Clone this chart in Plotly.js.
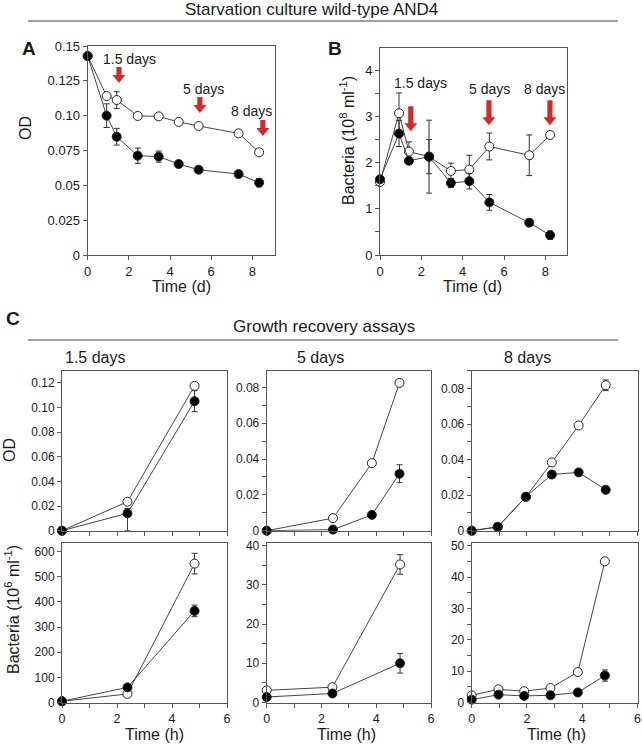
<!DOCTYPE html>
<html>
<head>
<meta charset="utf-8">
<script src="https://cdn.plot.ly/plotly-3.0.1.min.js"></script>
<style>html,body{margin:0;padding:0;background:#fff;}#plot{width:642px;height:746px;}</style>
</head>
<body>
<div id="plot"></div>
<script>
// ---------- Panel A : OD during starvation ----------
const A_time = [0, 0.92, 1.41, 2.43, 3.45, 4.42, 5.39, 7.33, 8.33];
const A_open = [0.1428, 0.1141, 0.1112, 0.0998, 0.0995, 0.0955, 0.0926, 0.0873, 0.0737];
const A_open_err = [0.001, 0, 0.006, 0.001, 0.002, 0.001, 0.001, 0.001, 0.001];
const A_filled = [0.1428, 0.1000, 0.0849, 0.0713, 0.0706, 0.0653, 0.0612, 0.0581, 0.0519];
const A_filled_err = [0.001, 0.0085, 0.006, 0.0055, 0.004, 0.002, 0.0015, 0.0015, 0.003];
const A_yticks = [0, 0.025, 0.05, 0.075, 0.10, 0.125, 0.15];
const A_yticklabels = ['0', '0.025', '0.05', '0.075', '0.10', '0.125', '0.15'];

// ---------- Panel B : bacteria during starvation ----------
const B_time = [0, 0.92, 1.40, 2.37, 3.43, 4.32, 5.29, 7.22, 8.23];
const B_open = [1.58, 3.07, 2.24, 2.13, 1.82, 1.85, 2.35, 2.16, 2.60];
const B_open_err = [0.05, 0.44, 0.21, 0.79, 0.17, 0.31, 0.29, 0.44, 0.03];
const B_filled = [1.64, 2.63, 2.04, 2.13, 1.56, 1.60, 1.14, 0.70, 0.43];
const B_filled_err = [0.05, 0.28, 0.05, 0.37, 0.10, 0.17, 0.17, 0.08, 0.09];

// Arrow marks (sampling days)
const arrowLabels = ['1.5 days', '5 days', '8 days'];
const A_arrowX = [1.52, 5.45, 8.51];
const A_arrowY = [0.1234, 0.1019, 0.0854];
const A_labelX = [2.05, 5.65, 7.98];
const A_labelY = [0.1407, 0.1191, 0.1033];
const B_arrowX = [1.49, 5.27, 8.22];
const B_arrowY = [2.68, 2.81, 2.81];
const B_labelX = [1.94, 5.32, 7.98];
const B_labelY = [3.72, 3.59, 3.59];

// ---------- Panel C : growth recovery ----------
const C1_time = [0, 2.38, 4.82];
const C1_od_open = [0, 0.0235, 0.1174];
const C1_od_open_err = [0, 0, 0.002];
const C1_od_filled = [0, 0.0141, 0.105];
const C1_od_filled_errUp = [0, 0.004, 0.0085];
const C1_od_filled_errDn = [0, 0.014, 0.0085];
const C1_bact_open = [5, 34, 552];
const C1_bact_open_err = [0, 0, 41];
const C1_bact_filled = [5, 60, 364];
const C1_bact_filled_err = [0, 5, 23];

const C2_time_od = [0, 2.42, 3.84, 4.85];
const C2_od_open = [0, 0.0070, 0.0377, 0.0825];
const C2_od_open_err = [0, 0, 0, 0.001];
const C2_od_filled = [0, 0.0006, 0.0088, 0.0318];
const C2_od_filled_err = [0, 0, 0.001, 0.005];
const C2_time_bact = [0, 2.4, 4.87];
const C2_bact_open = [3.1, 3.9, 35.2];
const C2_bact_open_err = [0, 0, 2.5];
const C2_bact_filled = [1.4, 2.3, 10.0];
const C2_bact_filled_err = [0, 0, 2.5];

const C3_time_od = [0, 0.94, 1.96, 2.9, 3.87, 4.85];
const C3_od_open = [0, 0.002, 0.019, 0.0384, 0.0592, 0.0818];
const C3_od_open_err = [0, 0, 0, 0, 0, 0.003];
const C3_od_filled = [0, 0.0022, 0.0191, 0.0316, 0.0328, 0.0230];
const C3_od_filled_err = [0, 0, 0, 0, 0, 0.002];
const C3_time_bact = [0, 0.97, 1.9, 2.85, 3.84, 4.82];
const C3_bact_open = [2.3, 4.2, 3.6, 4.6, 9.7, 45.0];
const C3_bact_open_err = [0, 0, 0, 0, 0, 1.0];
const C3_bact_filled = [0.9, 2.5, 2.1, 2.3, 3.2, 8.6];
const C3_bact_filled_err = [0, 0, 0, 0, 0, 1.8];

const recoveryTitles = ['1.5 days', '5 days', '8 days'];

// ---------- helpers ----------
const W = 642, H = 746;
const px = v => v / W;
const py = v => 1 - v / H;
const FONT = 'Liberation Sans, Arial, Helvetica, sans-serif';
const INK = '#1a1a1a';
const LINE = '#555555';

function series(x, y, errUp, errDn, filled, xa, ya) {
  const e = {type: 'data', array: errUp, visible: true, color: '#333', thickness: 1, width: 3};
  if (errDn) { e.symmetric = false; e.arrayminus = errDn; }
  return {
    x: x, y: y, xaxis: xa, yaxis: ya, type: 'scatter', mode: 'lines+markers',
    cliponaxis: false, showlegend: false, hoverinfo: 'skip',
    line: {color: '#444', width: 1},
    marker: {symbol: 'circle', size: 9, color: filled ? '#000' : '#fff', line: {color: '#222', width: 1}},
    error_y: e
  };
}

const traces = [
  series(A_time, A_open, A_open_err, null, false, 'x', 'y'),
  series(A_time, A_filled, A_filled_err, null, true, 'x', 'y'),
  series(B_time, B_open, B_open_err, null, false, 'x2', 'y2'),
  series(B_time, B_filled, B_filled_err, null, true, 'x2', 'y2'),
  series(C1_time, C1_od_open, C1_od_open_err, null, false, 'x3', 'y3'),
  series(C1_time, C1_od_filled, C1_od_filled_errUp, C1_od_filled_errDn, true, 'x3', 'y3'),
  series(C2_time_od, C2_od_open, C2_od_open_err, null, false, 'x4', 'y4'),
  series(C2_time_od, C2_od_filled, C2_od_filled_err, null, true, 'x4', 'y4'),
  series(C3_time_od, C3_od_open, C3_od_open_err, null, false, 'x5', 'y5'),
  series(C3_time_od, C3_od_filled, C3_od_filled_err, null, true, 'x5', 'y5'),
  series(C1_time, C1_bact_open, C1_bact_open_err, null, false, 'x6', 'y6'),
  series(C1_time, C1_bact_filled, C1_bact_filled_err, null, true, 'x6', 'y6'),
  series(C2_time_bact, C2_bact_open, C2_bact_open_err, null, false, 'x7', 'y7'),
  series(C2_time_bact, C2_bact_filled, C2_bact_filled_err, null, true, 'x7', 'y7'),
  series(C3_time_bact, C3_bact_open, C3_bact_open_err, null, false, 'x8', 'y8'),
  series(C3_time_bact, C3_bact_filled, C3_bact_filled_err, null, true, 'x8', 'y8')
];

function axis(domain, range, extra) {
  return Object.assign({
    domain: domain, range: range, showgrid: false, zeroline: false,
    showline: true, mirror: true, linecolor: LINE, linewidth: 1,
    ticks: 'outside', ticklen: 4, tickwidth: 1, tickcolor: LINE,
    tickfont: {family: FONT, size: 13, color: INK}, fixedrange: true
  }, extra || {});
}
const cFont = {family: FONT, size: 12, color: INK};

const cx = [[px(62), px(227)], [px(266.7), px(431)], [px(471.7), px(637.5)]];
const topRow = [py(530.7), py(370.7)];
const botRow = [py(702.5), py(542.5)];
const cxTicks = {tickvals: [0, 2, 4, 6], tickfont: {family: FONT, size: 12.5, color: INK}, minor: {ticks: 'outside', dtick: 1, ticklen: 4, tickcolor: LINE}};
const minorC = d => ({ticks: 'outside', dtick: d, ticklen: 4, tickcolor: LINE});

const layout = {
  width: W, height: H, margin: {l: 0, r: 0, t: 0, b: 0},
  paper_bgcolor: '#fff', plot_bgcolor: '#fff',
  font: {family: FONT, color: INK},
  xaxis: axis([px(87.7), px(275)], [0, 9.1], {anchor: 'y', tickvals: [0, 2, 4, 6, 8]}),
  yaxis: axis([py(255), py(46)], [0, 0.15], {anchor: 'x', tickmode: 'array', tickvals: A_yticks, ticktext: A_yticklabels}),
  xaxis2: axis([px(380), px(567.3)], [0, 9.06], {anchor: 'y2', tickvals: [0, 2, 4, 6, 8]}),
  yaxis2: axis([py(255), py(47.7)], [0, 4.49], {anchor: 'x2', tickvals: [0, 1, 2, 3, 4], minor: minorC(0.5)}),
  xaxis3: axis(cx[0], [0, 6], Object.assign({anchor: 'y3', showticklabels: false}, cxTicks)),
  yaxis3: axis(topRow, [0, 0.1297], {anchor: 'x3', tickfont: cFont, tickvals: [0, 0.02, 0.04, 0.06, 0.08, 0.10, 0.12], ticktext: ['0', '0.02', '0.04', '0.06', '0.08', '0.10', '0.12']}),
  xaxis4: axis(cx[1], [0, 6], Object.assign({anchor: 'y4', showticklabels: false}, cxTicks)),
  yaxis4: axis(topRow, [0, 0.0893], {anchor: 'x4', tickfont: cFont, tickvals: [0, 0.02, 0.04, 0.06, 0.08], ticktext: ['0', '0.02', '0.04', '0.06', '0.08'], minor: minorC(0.01)}),
  xaxis5: axis(cx[2], [0, 6], Object.assign({anchor: 'y5', showticklabels: false}, cxTicks)),
  yaxis5: axis(topRow, [0, 0.0900], {anchor: 'x5', tickfont: cFont, tickvals: [0, 0.02, 0.04, 0.06, 0.08], ticktext: ['0', '0.02', '0.04', '0.06', '0.08'], minor: minorC(0.01)}),
  xaxis6: axis(cx[0], [0, 6], Object.assign({anchor: 'y6'}, cxTicks)),
  yaxis6: axis(botRow, [0, 636], {anchor: 'x6', tickfont: cFont, tickvals: [0, 100, 200, 300, 400, 500, 600]}),
  xaxis7: axis(cx[1], [0, 6], Object.assign({anchor: 'y7'}, cxTicks)),
  yaxis7: axis(botRow, [0, 40.8], {anchor: 'x7', tickfont: cFont, tickvals: [0, 10, 20, 30, 40], minor: minorC(5)}),
  xaxis8: axis(cx[2], [0, 6], Object.assign({anchor: 'y8'}, cxTicks)),
  yaxis8: axis(botRow, [0, 51], {anchor: 'x8', tickfont: cFont, tickvals: [0, 10, 20, 30, 40, 50], minor: minorC(5)}),
  shapes: [
    {type: 'line', xref: 'paper', yref: 'paper', x0: px(28), x1: px(618), y0: py(21), y1: py(21), line: {color: '#808080', width: 1.5}},
    {type: 'line', xref: 'paper', yref: 'paper', x0: px(28), x1: px(618), y0: py(340), y1: py(340), line: {color: '#808080', width: 1.5}}
  ],
  annotations: []
};

const ann = layout.annotations;
function txt(x, y, text, size, opts) {
  ann.push(Object.assign({xref: 'paper', yref: 'paper', x: px(x), y: py(y), text: text, showarrow: false,
    xanchor: 'center', yanchor: 'middle', font: {family: FONT, size: size, color: INK}}, opts || {}));
}
txt(311, 9, 'Starvation culture wild-type AND4', 17);
txt(29, 48, '<b>A</b>', 19);
txt(335, 48, '<b>B</b>', 19);
txt(13, 318, '<b>C</b>', 19);
txt(324, 326, 'Growth recovery assays', 17);
txt(25, 128, 'OD', 16, {textangle: -90});
txt(347, 141, 'Bacteria (10<sup>8</sup> ml<sup>-1</sup>)', 16, {textangle: -90});
txt(182, 287, 'Time (d)', 16);
txt(472.5, 287, 'Time (d)', 16);
txt(10, 450, 'OD', 16, {textangle: -90});
txt(12, 610, 'Bacteria (10<sup>6</sup> ml<sup>-1</sup>)', 16, {textangle: -90});
[154, 346.7, 556.7].forEach(x => txt(x, 734, 'Time (h)', 16));
[95, 320, 527].forEach((x, i) => txt(x, 357, recoveryTitles[i], 16));

// block arrows: tip anchored at data position, body drawn in pixels
function arrowPath(len) {
  const hw = 6.5, sw = 2.6, hl = 8;
  return `M0,0 L${-hw},${hl} L${-sw},${hl} L${-sw},${len} L${sw},${len} L${sw},${hl} L${hw},${hl} Z`;
}
function arrows(xs, ys, lx, lyy, xr, yr, len) {
  for (let i = 0; i < xs.length; i++) {
    layout.shapes.push({type: 'path', xref: xr, yref: yr, xsizemode: 'pixel', ysizemode: 'pixel',
      xanchor: xs[i], yanchor: ys[i], path: arrowPath(len), fillcolor: '#d42a27', line: {width: 0}});
    ann.push({xref: xr, yref: yr, x: lx[i], y: lyy[i], text: arrowLabels[i], showarrow: false,
      xanchor: 'center', yanchor: 'middle', font: {family: FONT, size: 14, color: INK}});
  }
}
arrows(A_arrowX, A_arrowY, A_labelX, A_labelY, 'x', 'y', 16);
arrows(B_arrowX, B_arrowY, B_labelX, B_labelY, 'x2', 'y2', 25);

Plotly.newPlot('plot', traces, layout, {staticPlot: true});
</script>
</body>
</html>
